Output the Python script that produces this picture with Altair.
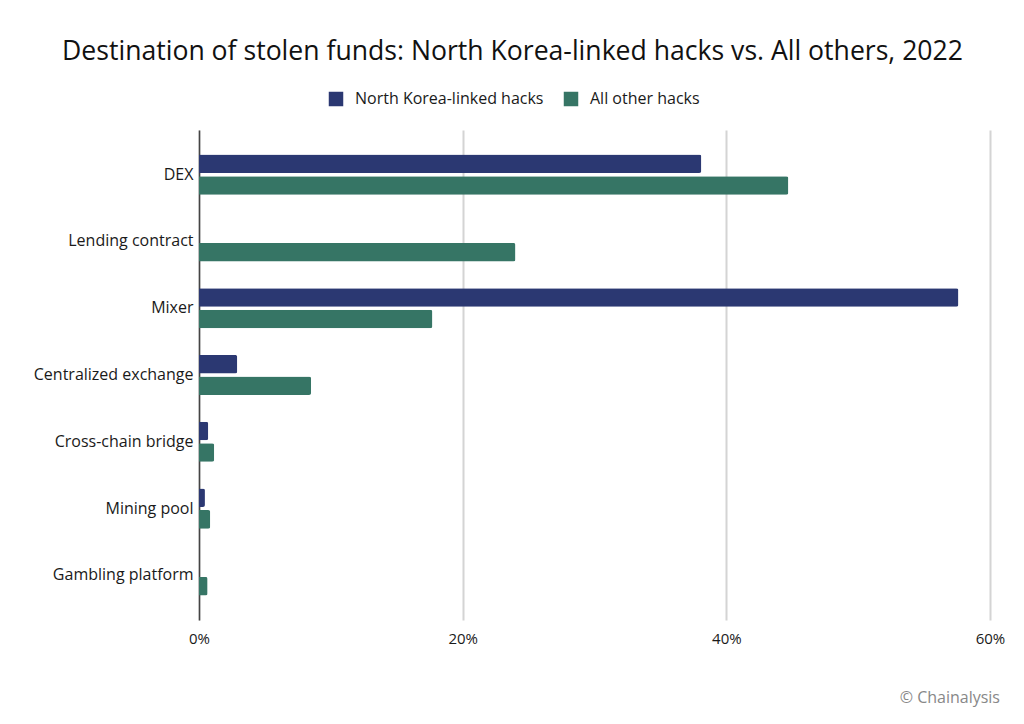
import altair as alt
import pandas as pd

categories = ["DEX", "Lending contract", "Mixer", "Centralized exchange",
              "Cross-chain bridge", "Mining pool", "Gambling platform"]
series = ["North Korea-linked hacks", "All other hacks"]
nk_values = [38.1, 0.0, 57.6, 2.9, 0.7, 0.45, 0.0]
other_values = [44.7, 24.0, 17.7, 8.5, 1.15, 0.85, 0.65]
colors = ["#2b3872", "#367565"]
x_ticks = [0, 0.2, 0.4, 0.6]
footer = ["© Chainalysis"]

rows = []
for c, a, b in zip(categories, nk_values, other_values):
    rows.append({"category": c, "series": series[0], "share": a / 100})
    rows.append({"category": c, "series": series[1], "share": b / 100})
df = pd.DataFrame(rows)

FONT = "Open Sans"

bars = alt.Chart(df).mark_bar(cornerRadiusEnd=2).encode(
    y=alt.Y("category:N", sort=categories, title=None,
            scale=alt.Scale(paddingInner=0.4, paddingOuter=0.368),
            axis=alt.Axis(ticks=False, labelFontSize=16, labelColor="#1a1a1a",
                          labelFont=FONT, labelPadding=6, domainColor="#444444",
                          domainWidth=1.5, grid=False, labelLimit=300)),
    yOffset=alt.YOffset("series:N", sort=series,
                        scale=alt.Scale(paddingInner=0.14, paddingOuter=0)),
    x=alt.X("share:Q", title=None,
            scale=alt.Scale(domain=[0, 0.6], nice=False),
            axis=alt.Axis(values=x_ticks, format=".0%", domain=False, ticks=False,
                          labelFontSize=15, labelColor="#1a1a1a", labelFont=FONT,
                          labelPadding=11, gridColor="#d4d4d4", gridWidth=2,
                          labelFlush=False)),
    color=alt.Color("series:N", sort=series,
                    scale=alt.Scale(domain=series, range=colors),
                    legend=alt.Legend(title=None, orient="none", direction="horizontal",
                                      legendX=129, legendY=-39, symbolType="square",
                                      symbolSize=210, symbolStrokeWidth=0,
                                      labelFontSize=16, labelFont=FONT,
                                      labelColor="#1a1a1a", labelOffset=11,
                                      labelLimit=400, columnPadding=19, padding=0)),
)

foot = alt.Chart(pd.DataFrame({"t": footer})).mark_text(
    align="right", baseline="middle", fontSize=16, font=FONT, color="#888888"
).encode(x=alt.value(801), y=alt.value(568), text="t:N")

chart = alt.layer(bars, foot).properties(
    width=791, height=490,
    title=alt.TitleParams(
        "Destination of stolen funds: North Korea-linked hacks vs. All others, 2022",
        fontSize=26.6, font=FONT, fontWeight="normal", color="#111111",
        anchor="middle", dx=-82, offset=25),
    autosize=alt.AutoSizeParams(type="none"),
    padding={"left": 191, "top": 122, "right": 26, "bottom": 90},
).configure_view(stroke=None)

chart.save("out.html", embed_options={"renderer": "svg", "actions": False})
